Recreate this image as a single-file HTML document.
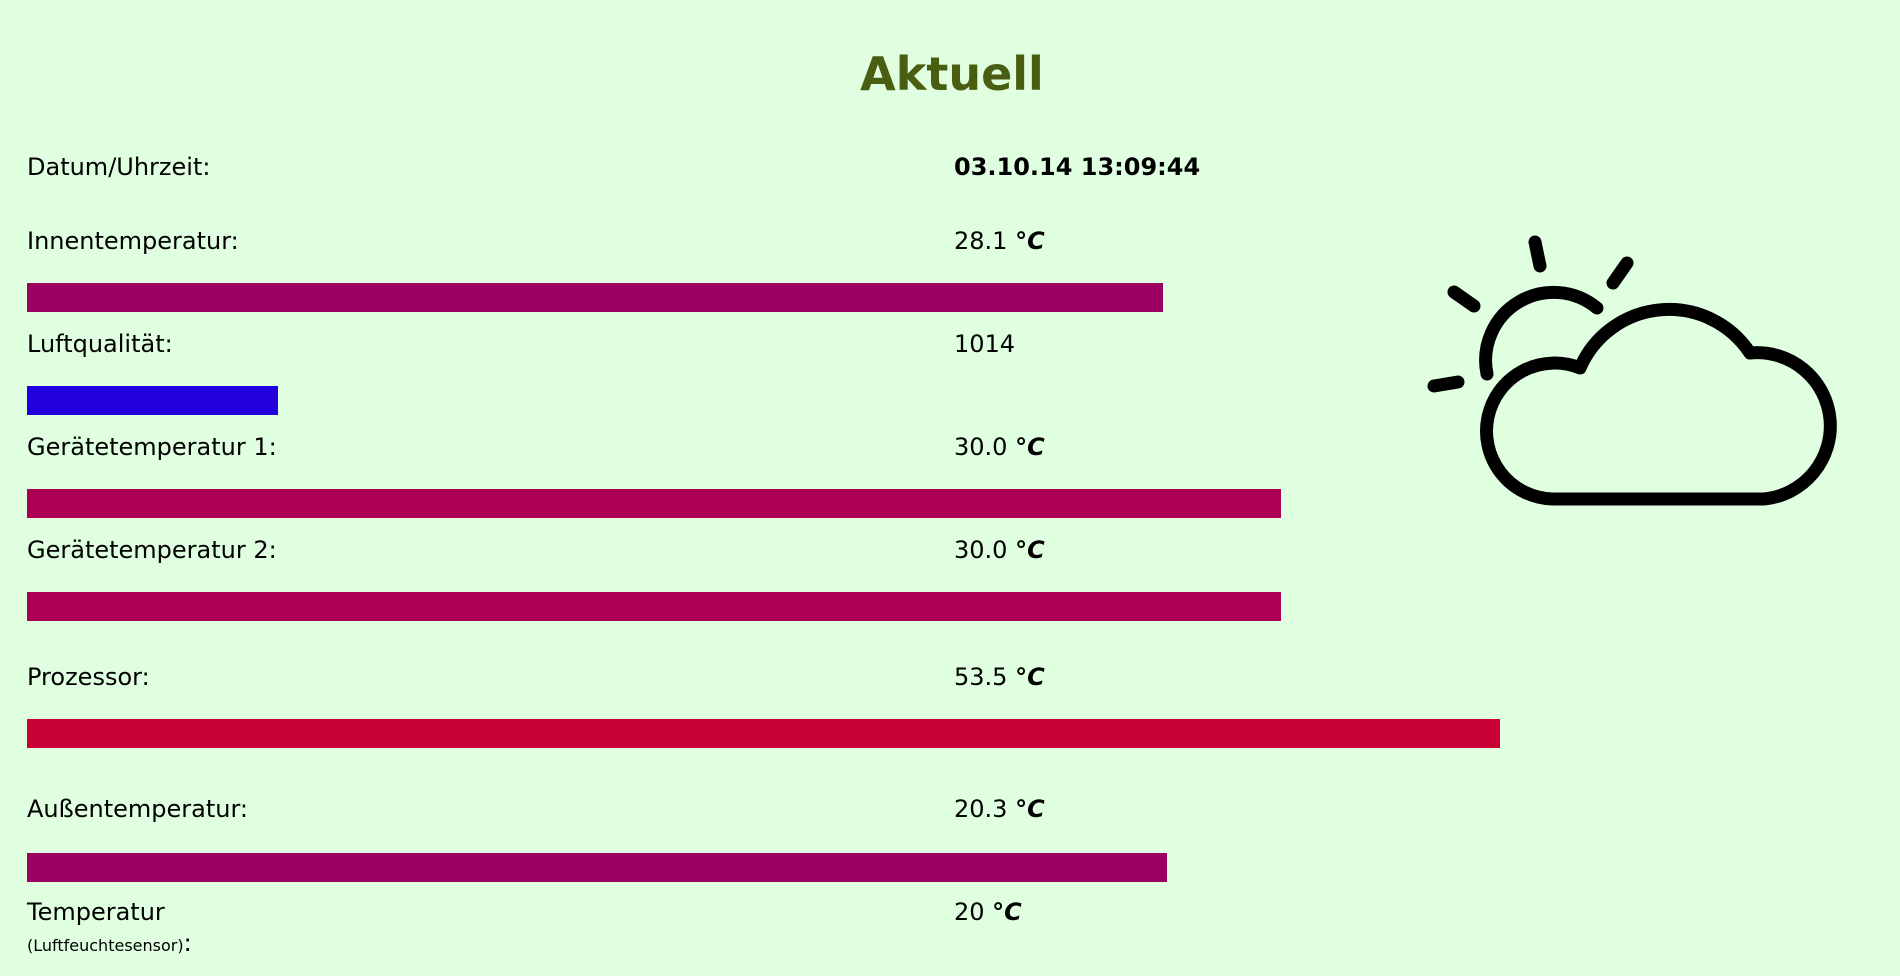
<!DOCTYPE html>
<html><head><meta charset="utf-8">
<style>
html,body{margin:0;padding:0;}
body{width:1900px;height:976px;background:#e0ffe0;position:relative;overflow:hidden;font-family:"DejaVu Sans","Liberation Sans",sans-serif;color:#000;}
.t{position:absolute;font-size:24px;line-height:28px;white-space:nowrap;}
h1{position:absolute;left:0;width:1904px;top:46px;margin:0;text-align:center;font-size:46px;line-height:56px;color:#4a5e12;font-weight:bold;}
.bar{position:absolute;height:29px;}
.u{font-weight:bold;font-style:italic;}
</style></head><body>
<h1>Aktuell</h1>
<div class="t" style="left:27px;top:153px">Datum/Uhrzeit:</div>
<div class="t" style="left:954px;top:153px;font-weight:bold">03.10.14 13:09:44</div>
<div id="rows"></div>
<div class="t" style="left:27px;top:898px">Temperatur</div>
<div class="t" style="left:27px;top:929px;font-size:16px">(Luftfeuchtesensor)<span style="font-size:24px">:</span></div>
<div class="t" style="left:954px;top:898px">20 <span class="u">°C</span></div>
<svg width="1900" height="976" style="position:absolute;left:0;top:0">
<g fill="none" stroke="#000" stroke-width="13" stroke-linecap="round" stroke-linejoin="round">
<line x1="1535" y1="242" x2="1540" y2="266"/>
<line x1="1627" y1="263" x2="1613" y2="283"/>
<line x1="1454" y1="292" x2="1474" y2="306"/>
<line x1="1434" y1="386" x2="1458" y2="382"/>
<path d="M1487,374 A68 68 0 0 1 1597,308"/>
<path d="M1552,499 A68 68 0 1 1 1580,368 A97 97 0 0 1 1750,353 A73 73 0 1 1 1764,499 Z"/>
</g></svg>
<script>
const labels=["Innentemperatur:","Luftqualität:","Gerätetemperatur 1:","Gerätetemperatur 2:","Prozessor:","Außentemperatur:"];
const values=["28.1","1014","30.0","30.0","53.5","20.3"];
const units=["°C","","°C","°C","°C","°C"];
const levels=[75.7,16.7,83.6,83.6,98.2,76.0];
const colors=["#9c0060","#2200dd","#ad0055","#ad0055","#c80035","#9c0060"];
const labelY=[227,330,433,536,663,795];
const barY=[283,386,489,592,719,853];
function xScale(p){return 1500*p/100;}
const root=document.getElementById('rows');
labels.forEach((l,i)=>{
  const a=document.createElement('div');a.className='t';a.style.left='27px';a.style.top=labelY[i]+'px';a.textContent=l;
  
  
  root.appendChild(a);
  const v=document.createElement('div');v.className='t';v.style.left='954px';v.style.top=labelY[i]+'px';
  v.innerHTML=values[i]+(units[i]?' <span class="u">'+units[i]+'</span>':'');
  
  
  root.appendChild(v);
  const b=document.createElement('div');b.className='bar';b.style.left='27px';b.style.top=barY[i]+'px';
  b.style.width=xScale(levels[i])+'px';b.style.background=colors[i];
  
  
  root.appendChild(b);
});
</script>
</body></html>
